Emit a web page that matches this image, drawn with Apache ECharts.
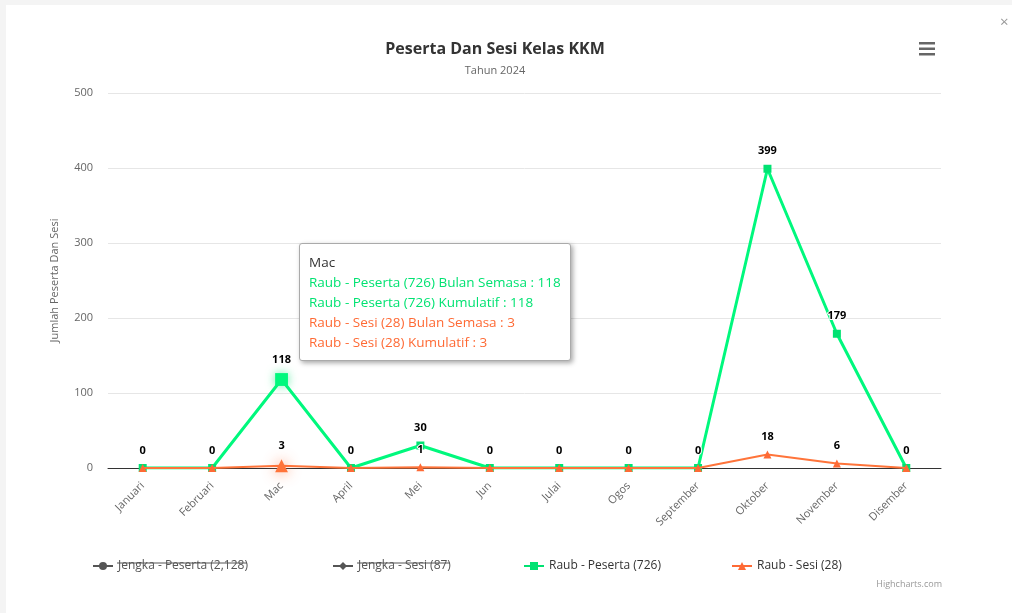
<!DOCTYPE html>
<html>
<head>
<meta charset="utf-8">
<script src="https://cdn.jsdelivr.net/npm/echarts@6/dist/echarts.min.js"></script>
<style>
  html, body { margin:0; padding:0; width:1012px; height:613px; background:#f4f4f4; overflow:hidden; }
  #card { position:absolute; left:6px; top:5px; right:0; bottom:0; background:#fff; }
  #chart { position:absolute; left:0; top:0; width:1012px; height:613px; }
</style>
</head>
<body>
<div id="card"></div>
<div id="chart"></div>
<script>
const FONT = '"Open Sans", "Noto Sans", sans-serif';
const months = ['Januari','Februari','Mac','April','Mei','Jun','Julai','Ogos','September','Oktober','November','Disember'];
const raubPeserta = [0, 0, 118, 0, 30, 0, 0, 0, 0, 399, 179, 0];
const raubSesi = [0, 0, 3, 0, 1, 0, 0, 0, 0, 18, 6, 0];
const jengkaPeserta = [];
const jengkaSesi = [];
const seriesNames = ['Jengka - Peserta (2,128)', 'Jengka - Sesi (87)', 'Raub - Peserta (726)', 'Raub - Sesi (28)'];
const yTicks = [0, 100, 200, 300, 400, 500];
const titleText = 'Peserta Dan Sesi Kelas KKM';
const subText = 'Tahun 2024';
const yName = 'Jumlah Peserta Dan Sesi';
const hoverIndex = 2;

const GREEN = '#00e272', ORANGE = '#fe6a35';

const chart = echarts.init(document.getElementById('chart'), null, {renderer:'canvas'});

function cum(arr, i){ let s=0; for(let k=0;k<=i;k++) s+=arr[k]; return s; }

const labelCommon = {
  show: true, position: 'top', distance: 8,
  color: '#000', fontSize: 11, fontWeight: 'bold', fontFamily: FONT,
  textBorderColor: '#fff', textBorderWidth: 2
};

const legendLefts = [87, 327, 518, 726];
const selected = {};
selected[seriesNames[0]] = false;
selected[seriesNames[1]] = false;
selected[seriesNames[2]] = true;
selected[seriesNames[3]] = true;

const legends = seriesNames.map((n, i) => ({
  data: [n], left: legendLefts[i], top: 555, selected: selected,
  itemWidth: 20, itemHeight: 10, inactiveColor: '#555', inactiveBorderColor: '#555',
  lineStyle: { inactiveColor: '#555', inactiveWidth: 2 },
  textStyle: { fontSize: 12, color: '#333', fontFamily: FONT, fontWeight: 'normal' }
}));

const option = {
  backgroundColor: 'transparent',
  animation: false,
  textStyle: { fontFamily: FONT },
  title: {
    text: titleText, subtext: subText,
    left: 490, textAlign: 'center', top: 36, itemGap: 8,
    textStyle: { fontSize: 16, fontWeight: 'bold', color: '#333', fontFamily: FONT },
    subtextStyle: { fontSize: 11, color: '#666', fontFamily: FONT }
  },
  legend: legends,
  grid: { left: 108, right: 71, top: 93, bottom: 145 },
  tooltip: {
    trigger: 'axis',
    axisPointer: { type: 'none' },
    alwaysShowContent: true,
    transitionDuration: 0,
    backgroundColor: '#fff',
    borderColor: '#aaa',
    borderWidth: 1,
    padding: [8, 9],
    extraCssText: 'box-shadow: 2px 2px 5px rgba(0,0,0,0.35); border-radius:3px;',
    position: function () { return [299, 243]; },
    formatter: function (params) {
      const i = params[0].dataIndex;
      const ln = 'line-height:20px;font-size:13.5px;font-family:' + FONT.replace(/"/g, "'") + ';';
      let h = '<div style="' + ln + 'color:#333">' + months[i] + '</div>';
      h += '<div style="' + ln + 'color:' + GREEN + '">' + seriesNames[2] + ' Bulan Semasa : ' + raubPeserta[i] + '</div>';
      h += '<div style="' + ln + 'color:' + GREEN + '">' + seriesNames[2] + ' Kumulatif : ' + cum(raubPeserta, i) + '</div>';
      h += '<div style="' + ln + 'color:' + ORANGE + '">' + seriesNames[3] + ' Bulan Semasa : ' + raubSesi[i] + '</div>';
      h += '<div style="' + ln + 'color:' + ORANGE + '">' + seriesNames[3] + ' Kumulatif : ' + cum(raubSesi, i) + '</div>';
      return h;
    }
  },
  xAxis: {
    type: 'category', data: months, boundaryGap: true,
    axisLine: { lineStyle: { color: '#333', width: 1 } },
    axisTick: { show: false },
    axisLabel: { rotate: 45, color: '#666', fontSize: 11, margin: 16, fontFamily: FONT, interval: 0 }
  },
  yAxis: {
    type: 'value', min: 0, max: 500, interval: 100,
    name: yName, nameLocation: 'middle', nameGap: 48,
    nameTextStyle: { color: '#666', fontSize: 11, fontFamily: FONT },
    axisLine: { show: false }, axisTick: { show: false },
    axisLabel: { color: '#666', fontSize: 11, margin: 15, fontFamily: FONT },
    splitLine: { lineStyle: { color: '#e6e6e6', width: 1 } }
  },
  series: [
    { name: seriesNames[0], type: 'line', data: jengkaPeserta, color: '#2caffe', symbol: 'circle', symbolSize: 8 },
    { name: seriesNames[1], type: 'line', data: jengkaSesi, color: '#544fc5', symbol: 'diamond', symbolSize: 8 },
    { name: seriesNames[2], type: 'line', data: raubPeserta, color: GREEN, symbol: 'rect', symbolSize: 8,
      lineStyle: { width: 3 }, z: 3,
      label: labelCommon,
      emphasis: { scale: 1.6, itemStyle: { shadowBlur: 10, shadowColor: 'rgba(0,226,114,0.6)' }, label: labelCommon, lineStyle: { width: 3 } } },
    { name: seriesNames[3], type: 'line', data: raubSesi, color: ORANGE, symbol: 'triangle', symbolSize: 8,
      lineStyle: { width: 2 }, z: 4,
      label: Object.assign({}, labelCommon, { formatter: p => p.value ? String(p.value) : '' }),
      emphasis: { scale: 1.6, itemStyle: { shadowBlur: 14, shadowColor: 'rgba(254,106,53,0.8)' },
        label: Object.assign({}, labelCommon, { formatter: p => p.value ? String(p.value) : '' }), lineStyle: { width: 2 } } }
  ],
  graphic: []
};

// decorations: menu icon, close mark, credits, legend strike-through
const ctx = document.createElement('canvas').getContext('2d');
ctx.font = '12px ' + FONT;
const deco = [
  { type: 'rect', shape: { x: 919, y: 42, width: 16, height: 2.5 }, style: { fill: '#666' } },
  { type: 'rect', shape: { x: 919, y: 47.5, width: 16, height: 2.5 }, style: { fill: '#666' } },
  { type: 'rect', shape: { x: 919, y: 53, width: 16, height: 2.5 }, style: { fill: '#666' } },
  { type: 'text', x: 1000, y: 15, style: { text: '×', fill: '#999', fontSize: 15, fontFamily: FONT } },
  { type: 'text', x: 942, y: 580, style: { text: 'Highcharts.com', fill: '#999', fontSize: 9, fontFamily: FONT, align: 'right' } }
];
[0, 1].forEach(i => {
  const w = ctx.measureText(seriesNames[i]).width;
  const x0 = legendLefts[i] + 30;
  deco.push({ type: 'line', shape: { x1: x0, y1: 563, x2: x0 + w, y2: 563 }, style: { stroke: '#555', lineWidth: 1 }, z: 100 });
});
option.graphic = deco;

chart.setOption(option);
chart.dispatchAction({ type: 'highlight', seriesIndex: [2, 3], dataIndex: hoverIndex });
chart.dispatchAction({ type: 'showTip', seriesIndex: 2, dataIndex: hoverIndex });
</script>
</body>
</html>
